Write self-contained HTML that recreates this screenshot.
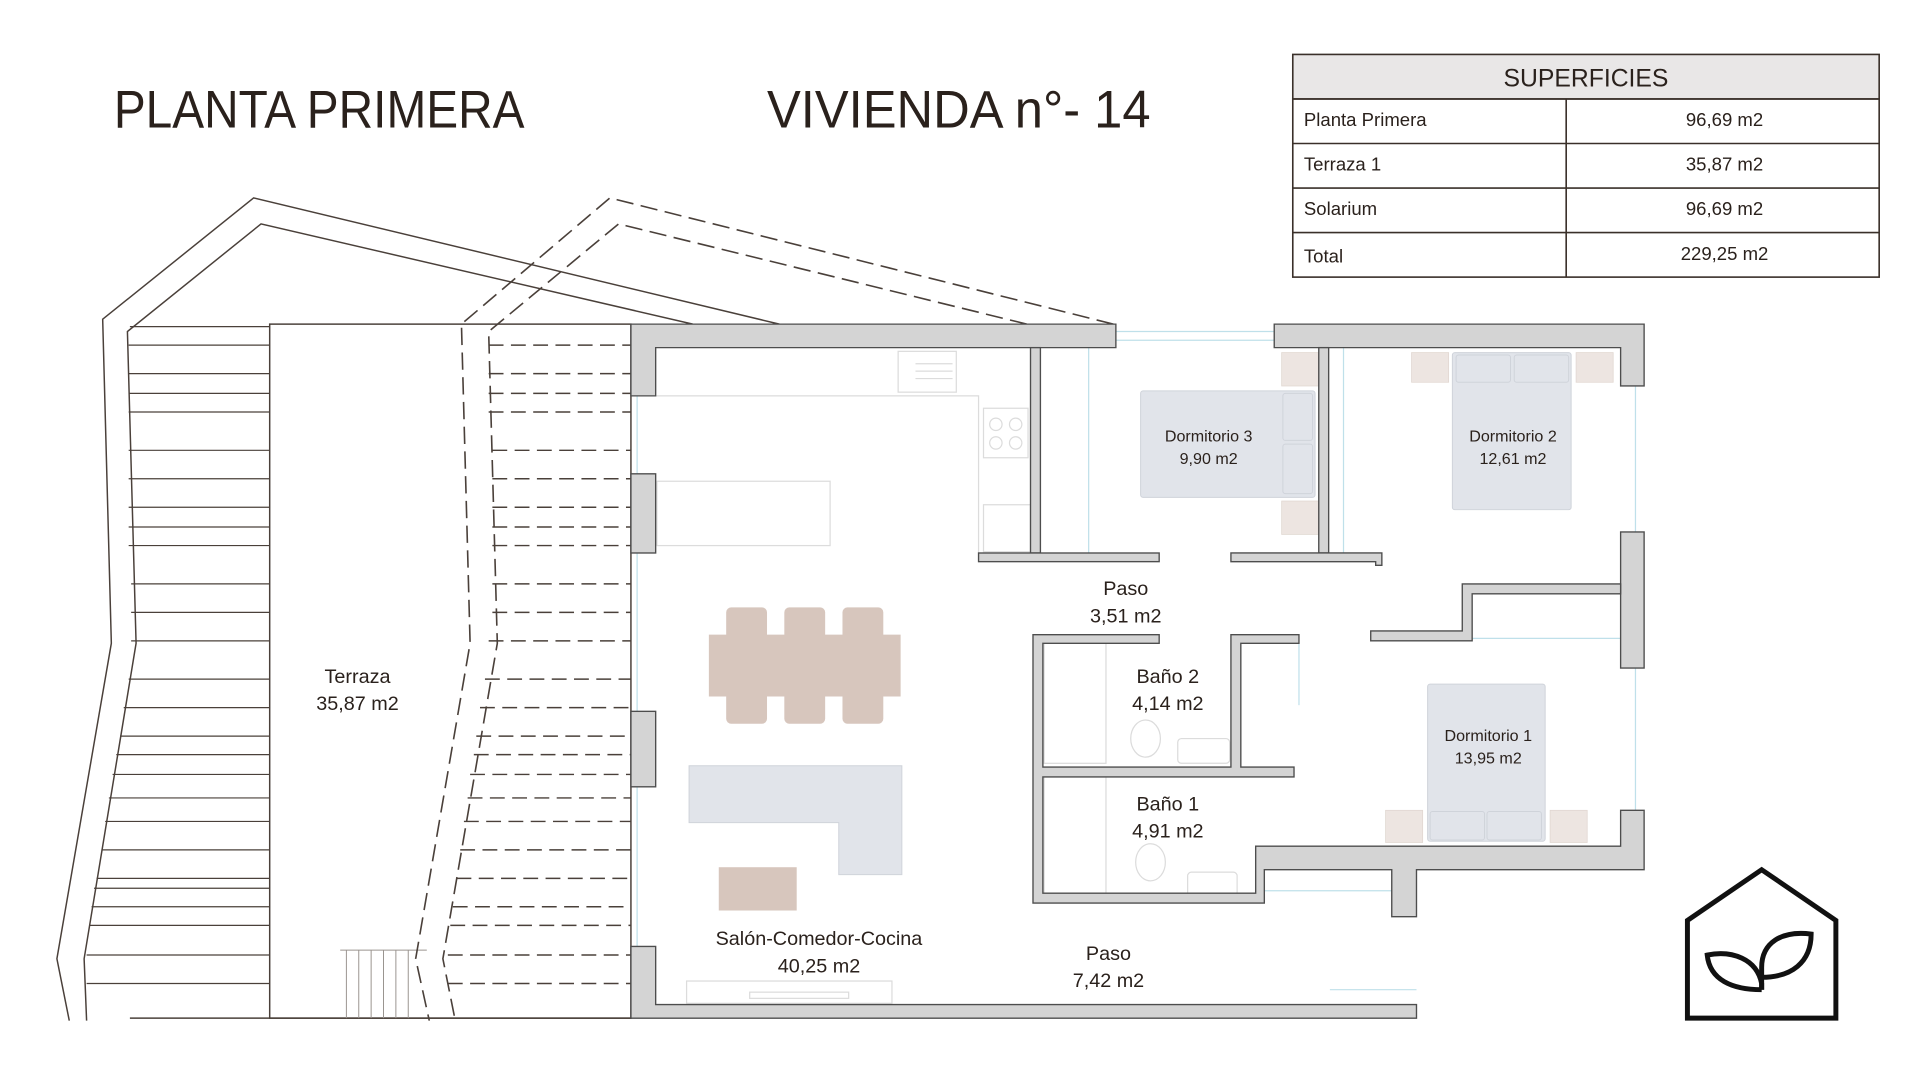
<!DOCTYPE html>
<html><head><meta charset="utf-8"><style>
html,body{margin:0;padding:0;background:#fff;width:1920px;height:1080px;overflow:hidden}
svg{display:block}
text{font-family:"Liberation Sans",sans-serif;fill:#2a211c}
</style></head><body>
<svg width="1920" height="1080" viewBox="0 0 1552 873" preserveAspectRatio="none" xmlns="http://www.w3.org/2000/svg">
<rect width="1552" height="873" fill="#fff"/>
<!-- titles -->
<text x="92" y="103" font-size="43" textLength="332" lengthAdjust="spacingAndGlyphs">PLANTA PRIMERA</text>
<text x="620" y="103" font-size="43" textLength="310" lengthAdjust="spacingAndGlyphs">VIVIENDA n°- 14</text>
<!-- table -->
<g stroke="#3a302a" stroke-width="1.3">
<rect x="1045" y="44" width="474" height="36" fill="#e9e7e7"/>
<rect x="1045" y="80" width="474" height="144" fill="none"/>
<line x1="1045" y1="116" x2="1519" y2="116"/><line x1="1045" y1="152" x2="1519" y2="152"/><line x1="1045" y1="188" x2="1519" y2="188"/>
<line x1="1266" y1="80" x2="1266" y2="224"/>
</g>
<g font-size="15">
<text x="1282" y="70" font-size="20" text-anchor="middle">SUPERFICIES</text>
<text x="1054" y="102">Planta Primera</text><text x="1394" y="102" text-anchor="middle">96,69 m2</text>
<text x="1054" y="138">Terraza 1</text><text x="1394" y="138" text-anchor="middle">35,87 m2</text>
<text x="1054" y="174">Solarium</text><text x="1394" y="174" text-anchor="middle">96,69 m2</text>
<text x="1054" y="212">Total</text><text x="1394" y="210" text-anchor="middle">229,25 m2</text>
</g>
<!-- terrace outlines -->
<g fill="none" stroke="#4a403a" stroke-width="1.2">
<polyline points="630,262 205,160 83,258 90,520 46,775 56,825"/>
<polyline points="560,262 211,181 103,268 110,520 68,775 70,825"/>
<rect x="218" y="262" width="292" height="561"/>
<line x1="105" y1="823" x2="510" y2="823"/>
</g>
<g stroke="#4a403a" stroke-width="1">
<line x1="105" y1="264" x2="218" y2="264"/>
<line x1="104" y1="279" x2="218" y2="279"/><line x1="104" y1="302" x2="218" y2="302"/><line x1="104" y1="318" x2="218" y2="318"/><line x1="104" y1="333" x2="218" y2="333"/><line x1="104" y1="364" x2="218" y2="364"/><line x1="104" y1="387" x2="218" y2="387"/><line x1="104" y1="410" x2="218" y2="410"/><line x1="104" y1="426" x2="218" y2="426"/><line x1="104" y1="441" x2="218" y2="441"/><line x1="106" y1="472" x2="218" y2="472"/><line x1="106" y1="495" x2="218" y2="495"/><line x1="106" y1="518" x2="218" y2="518"/><line x1="104" y1="549" x2="218" y2="549"/><line x1="100" y1="572" x2="218" y2="572"/><line x1="97" y1="595" x2="218" y2="595"/><line x1="94" y1="610" x2="218" y2="610"/><line x1="91" y1="626" x2="218" y2="626"/><line x1="88" y1="645" x2="218" y2="645"/><line x1="85" y1="664" x2="218" y2="664"/><line x1="82" y1="687" x2="218" y2="687"/><line x1="78" y1="710" x2="218" y2="710"/><line x1="76" y1="718" x2="218" y2="718"/><line x1="74" y1="733" x2="218" y2="733"/><line x1="72" y1="748" x2="218" y2="748"/><line x1="70" y1="772" x2="218" y2="772"/><line x1="70" y1="795" x2="218" y2="795"/>
</g>
<g stroke="#9a948f" stroke-width="0.8"><line x1="275" y1="768" x2="345" y2="768"/>
<line x1="280" y1="768" x2="280" y2="823"/><line x1="290" y1="768" x2="290" y2="823"/><line x1="300" y1="768" x2="300" y2="823"/><line x1="310" y1="768" x2="310" y2="823"/><line x1="320" y1="768" x2="320" y2="823"/><line x1="330" y1="768" x2="330" y2="823"/></g>
<!-- dashed -->
<g fill="none" stroke="#4a403a" stroke-width="1.3" stroke-dasharray="14,6">
<polyline points="900,262 493,160 373,262 380,520 336,775 347,825"/>
<polyline points="830,262 500,181 395,268 402,520 358,775 368,825"/>
<line x1="510" y1="822" x2="1145" y2="822"/>
</g>
<g stroke="#4a403a" stroke-width="1.2" stroke-dasharray="12,6">
<line x1="395" y1="279" x2="510" y2="279"/><line x1="395" y1="302" x2="510" y2="302"/><line x1="395" y1="318" x2="510" y2="318"/><line x1="395" y1="333" x2="510" y2="333"/><line x1="398" y1="364" x2="510" y2="364"/><line x1="398" y1="387" x2="510" y2="387"/><line x1="398" y1="410" x2="510" y2="410"/><line x1="398" y1="426" x2="510" y2="426"/><line x1="398" y1="441" x2="510" y2="441"/><line x1="398" y1="472" x2="510" y2="472"/><line x1="398" y1="495" x2="510" y2="495"/><line x1="395" y1="518" x2="510" y2="518"/><line x1="392" y1="549" x2="510" y2="549"/><line x1="388" y1="572" x2="510" y2="572"/><line x1="385" y1="595" x2="510" y2="595"/><line x1="383" y1="610" x2="510" y2="610"/><line x1="380" y1="626" x2="510" y2="626"/><line x1="378" y1="645" x2="510" y2="645"/><line x1="375" y1="664" x2="510" y2="664"/><line x1="372" y1="687" x2="510" y2="687"/><line x1="369" y1="710" x2="510" y2="710"/><line x1="366" y1="733" x2="510" y2="733"/><line x1="364" y1="748" x2="510" y2="748"/><line x1="362" y1="772" x2="510" y2="772"/><line x1="362" y1="795" x2="510" y2="795"/>
</g>
<!-- light blue windows/lines -->
<g stroke="#bfe0ea" stroke-width="1" fill="none">
<line x1="515" y1="320" x2="515" y2="383"/><line x1="515" y1="447" x2="515" y2="575"/><line x1="515" y1="636" x2="515" y2="765"/>
<line x1="902" y1="268" x2="1030" y2="268"/><line x1="902" y1="275" x2="1030" y2="275"/>
<line x1="1322" y1="312" x2="1322" y2="430"/><line x1="1322" y1="540" x2="1322" y2="655"/>
<line x1="880" y1="281" x2="880" y2="447"/><line x1="1086" y1="281" x2="1086" y2="447"/>
<line x1="1050" y1="520" x2="1050" y2="570"/><line x1="1075" y1="800" x2="1145" y2="800"/>
<line x1="1190" y1="516" x2="1310" y2="516"/><line x1="1022" y1="720" x2="1125" y2="720"/>
</g>
<!-- kitchen -->
<g stroke="#dcdcdc" stroke-width="1" fill="none">
<polyline points="530,320 791,320 791,447"/>
<rect x="531" y="389" width="140" height="52"/>
<rect x="726" y="284" width="47" height="33"/>
<rect x="795" y="330" width="36" height="40"/>
<rect x="795" y="408" width="38" height="38"/>
<rect x="555" y="793" width="166" height="18"/>
<rect x="606" y="802" width="80" height="5"/>
<circle cx="805" cy="343" r="5"/><circle cx="821" cy="343" r="5"/><circle cx="805" cy="358" r="5"/><circle cx="821" cy="358" r="5"/>
<line x1="740" y1="294" x2="770" y2="294"/><line x1="740" y1="300" x2="770" y2="300"/><line x1="740" y1="306" x2="770" y2="306"/>
<rect x="844" y="520" width="50" height="97"/><rect x="844" y="628" width="50" height="95"/>
<ellipse cx="926" cy="597" rx="12" ry="15"/><ellipse cx="930" cy="697" rx="12" ry="15"/>
<rect x="952" y="597" width="42" height="20" rx="3"/><rect x="960" y="705" width="40" height="20" rx="3"/>
</g>
<!-- furniture -->
<g fill="#e1e4ea" stroke="#cfd3da" stroke-width="0.8">
<rect x="922" y="316" width="141" height="86" rx="2"/>
<rect x="1037" y="318" width="24" height="38" rx="2"/><rect x="1037" y="359" width="24" height="40" rx="2"/>
<rect x="1174" y="285" width="96" height="127" rx="2"/>
<rect x="1177" y="287" width="44" height="22" rx="2"/><rect x="1224" y="287" width="44" height="22" rx="2"/>
<rect x="1154" y="553" width="95" height="127" rx="2"/>
<rect x="1156" y="656" width="44" height="23" rx="2"/><rect x="1202" y="656" width="44" height="23" rx="2"/>
<path d="M557,619 H729 V707 H678 V665 H557 Z"/>
</g>
<g fill="#ede5e1" stroke="#e0d6d0" stroke-width="0.6">
<rect x="1036" y="285" width="30" height="27"/><rect x="1036" y="405" width="30" height="27"/>
<rect x="1141" y="285" width="30" height="24"/><rect x="1274" y="285" width="30" height="24"/>
<rect x="1120" y="655" width="30" height="26"/><rect x="1253" y="655" width="30" height="26"/>
</g>
<g fill="#d7c6bd">
<rect x="587" y="491" width="33" height="94" rx="4"/><rect x="634" y="491" width="33" height="94" rx="4"/><rect x="681" y="491" width="33" height="94" rx="4"/>
<rect x="573" y="513" width="155" height="50"/>
<rect x="581" y="701" width="63" height="35"/>
</g>
<!-- walls -->
<g fill="#d4d4d4" stroke="#4d4d4d" stroke-width="1.1">
<path d="M510,262 H902 V281 H530 V320 H510 Z"/>
<rect x="510" y="383" width="20" height="64"/><rect x="510" y="575" width="20" height="61"/>
<path d="M510,765 H530 V812 H1145 V823 H510 Z"/>
<rect x="833" y="281" width="8" height="166"/>
<rect x="791" y="447" width="146" height="7"/>
<path d="M1030,262 H1329 V312 H1310 V281 H1030 Z"/>
<rect x="1066" y="281" width="8" height="166"/>
<path d="M995,447 H1117 V457 H1112 V454 H995 Z"/>
<rect x="1310" y="430" width="19" height="110"/>
<path d="M1182,472 H1310 V480 H1190 V518 H1108 V510 H1182 Z"/>
<path d="M835,513 H937 V520 H843 V620 H995 V513 H1050 V520 H1003 V620 H1046 V628 H843 V722 H1015 V684 H1310 V655 H1329 V703 H1145 V741 H1125 V703 H1022 V730 H835 Z"/>
</g>
<!-- labels -->
<g font-size="16" text-anchor="middle">
<text x="289" y="552">Terraza</text><text x="289" y="574">35,87 m2</text>
<text x="910" y="481">Paso</text><text x="910" y="503">3,51 m2</text>
<text x="944" y="552">Baño 2</text><text x="944" y="574">4,14 m2</text>
<text x="944" y="655">Baño 1</text><text x="944" y="677">4,91 m2</text>
<text x="662" y="764">Salón-Comedor-Cocina</text><text x="662" y="786">40,25 m2</text>
<text x="896" y="776">Paso</text><text x="896" y="798">7,42 m2</text>
</g>
<g font-size="13" text-anchor="middle">
<text x="977" y="357">Dormitorio 3</text><text x="977" y="375">9,90 m2</text>
<text x="1223" y="357">Dormitorio 2</text><text x="1223" y="375">12,61 m2</text>
<text x="1203" y="599">Dormitorio 1</text><text x="1203" y="617">13,95 m2</text>
</g>
<!-- logo -->
<g fill="none" stroke="#111" stroke-width="4">
<path d="M1364,823 V744 L1424,703 L1484,744 V823 Z"/>
<path d="M1424,800 V782 C1424,762 1440,752 1464,755 C1464,778 1448,790 1424,790"/>
<path d="M1424,800 V795 C1420,775 1400,768 1380,772 C1382,792 1400,800 1424,800"/>
</g>
</svg>
</body></html>
